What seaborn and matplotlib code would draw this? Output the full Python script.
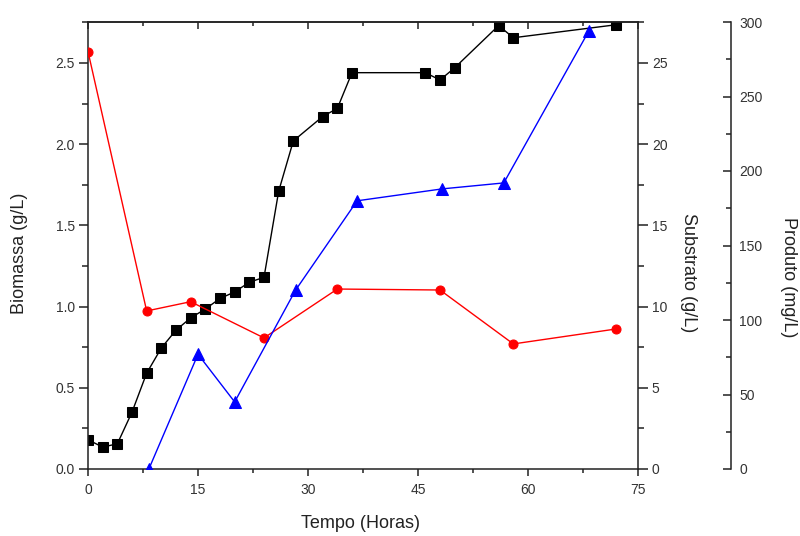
import matplotlib
matplotlib.use("Agg")
import matplotlib.pyplot as plt
from matplotlib.ticker import MultipleLocator
import seaborn as sns
import pandas as pd

# ---- data ----
tempo_biomassa = [0, 2, 4, 6, 8, 10, 12, 14, 16, 18, 20, 22, 24, 26, 28, 32, 34, 36, 46, 48, 50, 56, 58, 72]
biomassa = [0.18, 0.135, 0.155, 0.35, 0.59, 0.745, 0.855, 0.93, 0.985, 1.05, 1.09, 1.15, 1.18,
            1.71, 2.02, 2.17, 2.22, 2.44, 2.44, 2.395, 2.47, 2.73, 2.655, 2.735]

tempo_substrato = [0, 8, 14, 24, 34, 48, 58, 72]
substrato = [25.7, 9.73, 10.3, 8.07, 11.08, 11.02, 7.7, 8.62]

tempo_produto = [8.3, 15, 20, 28.3, 36.7, 48.3, 56.7, 68.3]
produto = [0, 77, 45, 120, 180, 188, 192, 294]

x_ticks = [0, 15, 30, 45, 60, 75]

df_b = pd.DataFrame({"t": tempo_biomassa, "v": biomassa})
df_s = pd.DataFrame({"t": tempo_substrato, "v": substrato})
df_p = pd.DataFrame({"t": tempo_produto, "v": produto})

sns.set_style("ticks")
plt.rcParams["font.family"] = ["Liberation Sans", "DejaVu Sans"]

TXT = "#333333"
SP = "#222222"
LW_SP = 1.1

fig = plt.figure(figsize=(8, 5.36), dpi=100)
ax = fig.add_axes([88 / 800, 1 - 469 / 536, 550 / 800, 447 / 536])
ax2 = ax.twinx()
ax3 = ax.twinx()

sns.lineplot(data=df_b, x="t", y="v", ax=ax, color="black", marker="s", markersize=7,
             markeredgecolor="black", linewidth=1.0, sort=False)
sns.lineplot(data=df_s, x="t", y="v", ax=ax2, color="#FF0000", marker="o", markersize=6.5,
             markeredgecolor="#FF0000", linewidth=1.0, sort=False)
sns.lineplot(data=df_p, x="t", y="v", ax=ax3, color="#0000FF", marker="^", markersize=8,
             markeredgecolor="#0000FF", linewidth=1.0, sort=False)

ax.set_xlim(0, 75)
ax.set_ylim(0, 2.752)
ax2.set_ylim(0, 27.52)
ax3.set_ylim(0, 300)

ax.set_xticks(x_ticks)
ax.xaxis.set_minor_locator(MultipleLocator(7.5))
ax.yaxis.set_major_locator(MultipleLocator(0.5))
ax.yaxis.set_minor_locator(MultipleLocator(0.25))
ax.yaxis.set_major_formatter(matplotlib.ticker.FormatStrFormatter("%.1f"))
ax2.yaxis.set_major_locator(MultipleLocator(5))
ax2.yaxis.set_minor_locator(MultipleLocator(2.5))
ax3.yaxis.set_major_locator(MultipleLocator(50))
ax3.yaxis.set_minor_locator(MultipleLocator(25))

# spines
for a in (ax, ax2, ax3):
    for s in a.spines.values():
        s.set_color(SP)
        s.set_linewidth(LW_SP)
ax.spines["top"].set_visible(True)
ax.spines["right"].set_visible(False)
ax2.spines["left"].set_visible(False)
ax2.spines["top"].set_visible(False)
ax2.spines["bottom"].set_visible(False)
ax3.spines["left"].set_visible(False)
ax3.spines["top"].set_visible(False)
ax3.spines["bottom"].set_visible(False)
ax3.spines["right"].set_position(("axes", 1.169))

# tick styling
ax.tick_params(axis="x", which="major", direction="out", length=5, width=LW_SP, color=SP,
               labelsize=10, labelcolor=TXT, pad=5)
ax.tick_params(axis="x", which="minor", direction="out", length=3, width=LW_SP, color=SP)
ax.tick_params(axis="y", which="major", direction="out", length=6.5, width=LW_SP, color=SP,
               labelsize=10, labelcolor=TXT, pad=3)
ax.tick_params(axis="y", which="minor", direction="out", length=4, width=LW_SP, color=SP)
ax2.tick_params(axis="y", which="major", direction="out", length=7, width=LW_SP, color=SP,
                labelsize=10, labelcolor=TXT, pad=3)
ax2.tick_params(axis="y", which="minor", direction="out", length=4, width=LW_SP, color=SP)
ax3.tick_params(axis="y", which="major", direction="in", length=6, width=LW_SP, color=SP,
                labelsize=10, labelcolor=TXT, pad=6)
ax3.tick_params(axis="y", which="minor", direction="in", length=3.5, width=LW_SP, color=SP)

# top ticks pointing inward
sec = ax.secondary_xaxis("top")
sec.set_xticks(x_ticks)
sec.xaxis.set_minor_locator(MultipleLocator(7.5))
sec.tick_params(axis="x", which="major", direction="in", length=5, width=LW_SP, color=SP,
                labeltop=False)
sec.tick_params(axis="x", which="minor", direction="in", length=3, width=LW_SP, color=SP)
sec.spines["top"].set_color(SP)
sec.spines["top"].set_linewidth(LW_SP)

# labels
ax.set_xlabel("Tempo (Horas)", fontsize=13, color="#222222")
ax.xaxis.set_label_coords(0.496, -0.121)
ax.xaxis.label.set_va("center")
ax.set_ylabel("Biomassa (g/L)", fontsize=13, color="#222222")
ax.yaxis.set_label_coords(-0.124, 0.483)
ax.yaxis.label.set_va("center")
ax2.set_ylabel("Substrato (g/L)", fontsize=13, color="#222222", rotation=-90)
ax2.yaxis.set_label_coords(1.091, 0.4385)
ax2.yaxis.label.set_va("center")
ax3.set_ylabel("Produto (mg/L)", fontsize=13, color="#222222", rotation=-90)
ax3.yaxis.set_label_coords(1.273, 0.4295)
ax3.yaxis.label.set_va("center")

fig.savefig("out.png", dpi=100, facecolor="white")
